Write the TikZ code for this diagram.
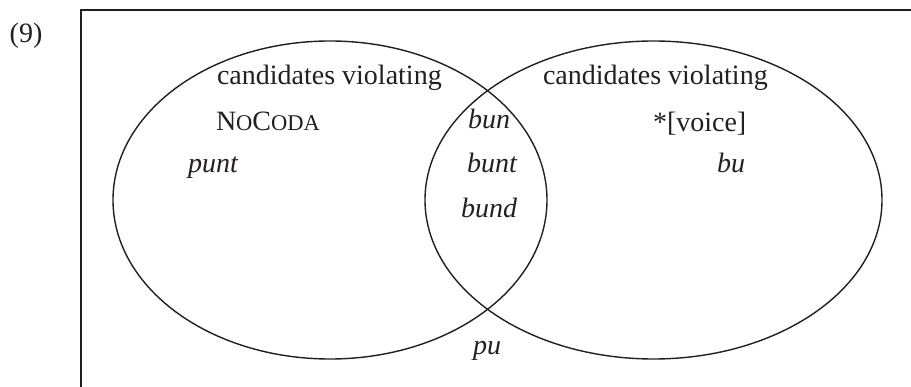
\documentclass[tikz,border=0pt]{standalone}
\usepackage{fontspec}
\setmainfont{Liberation Serif}
\usetikzlibrary{shapes.geometric}
\definecolor{ink}{RGB}{35,31,32}
\newcommand{\smallcapsize}{\fontsize{22.5}{26}\selectfont}
\begin{document}
\begin{tikzpicture}[x=1pt,y=-1pt,
  every node/.style={inner sep=0pt,outer sep=0pt,text=ink},
  setoval/.style={draw=ink,line width=1.4pt,ellipse,minimum width=#1},
  label/.style={font=\fontsize{28}{32}\selectfont},
  word/.style={font=\fontsize{28}{32}\selectfont\itshape}]
  \useasboundingbox (0,0) rectangle (911,387);

  % example number
  \node[label,anchor=base] (num) at (26,43) {(9)};

  % frame: only its left and top sides fall inside the page
  \coordinate (fb) at (81,390);
  \coordinate (ft) at (81,10);
  \coordinate (fr) at (915,10);
  \draw[ink,line width=1.4pt] (fb) -- (ft) -- (fr);

  % the two constraint sets
  \node[setoval=434pt,minimum height=318pt] (nocoda) at (330,200) {};
  \node[setoval=457pt,minimum height=318pt] (voice) at (653.5,200) {};

  % set headings
  \node[label,anchor=base west] (h1) at (217,85) {candidates violating};
  \node[label,anchor=base west] (h2) at (216,131) {N{\smallcapsize O}C{\smallcapsize ODA}};
  \node[label,anchor=base west] (h3) at (543,85) {candidates violating};
  \node[label,anchor=base west] (h4) at (653,132) {*[voice]};

  % candidates
  \node[word,anchor=base west] (punt) at (188,173) {punt};
  \node[word,anchor=base east] (bun) at (510,129) {bun};
  \node[word,anchor=base east] (bunt) at (517,173) {bunt};
  \node[word,anchor=base east] (bund) at (517,218) {bund};
  \node[word,anchor=base east] (bu) at (745,173) {bu};
  \node[word,anchor=base west] (pu) at (473,355) {pu};
\end{tikzpicture}
\end{document}
